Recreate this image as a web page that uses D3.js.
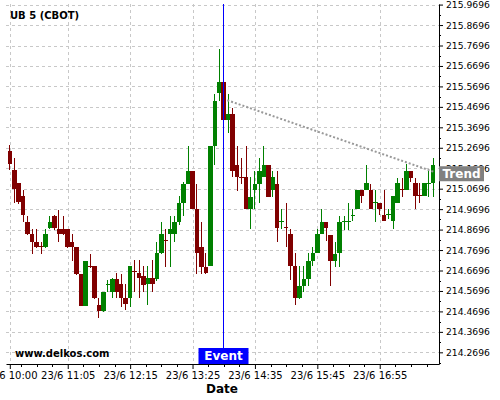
<!DOCTYPE html>
<html>
<head>
<meta charset="utf-8">
<script src="https://cdn.jsdelivr.net/npm/d3@7"></script>
<style>
body { margin: 0; background: #fff; }
svg { display: block; font-family: "DejaVu Sans", sans-serif; }
</style>
</head>
<body>
<script>
// Les données : barres de 5 minutes, le 23/6, à partir de 10:00
var title = "UB 5 (CBOT)";
var day = "23/6";
var firstBar = "10:00";
var barMinutes = 5;

var open = [
  215.252, 215.159, 215.095, 215.032, 214.909, 214.846, 214.811, 214.787, 214.784, 214.877, 214.937, 214.873,
  214.873, 214.873, 214.811, 214.784, 214.653, 214.498, 214.693, 214.690, 214.502, 214.471, 214.599, 214.566,
  214.628, 214.602, 214.537, 214.537, 214.666, 214.656, 214.645, 214.602, 214.631, 214.626, 214.753, 214.818,
  214.847, 214.847, 214.905, 215.000, 215.094, 215.157, 214.969, 214.783, 214.689, 214.691, 215.279, 215.536,
  215.592, 215.406, 215.434, 215.185, 215.128, 215.125, 214.969, 215.063, 215.094, 215.125, 215.185, 215.063,
  215.094, 214.908, 214.880, 214.847, 214.691, 214.535, 214.596, 214.626, 214.718, 214.753, 214.847, 214.909,
  214.845, 214.718, 214.755, 214.909, 214.910, 214.940, 214.968, 215.065, 215.065, 215.065, 215.001, 215.002,
  214.939, 214.943, 214.910, 215.002, 215.070, 215.065, 215.157, 215.095, 215.038, 215.033, 215.093, 215.095
];
var high = [
  215.281, 215.221, 215.095, 215.064, 214.937, 214.873, 214.873, 214.808, 214.873, 214.937, 214.940, 214.966,
  214.937, 214.873, 214.846, 214.784, 214.653, 214.718, 214.751, 214.690, 214.535, 214.564, 214.625, 214.631,
  214.656, 214.653, 214.602, 214.693, 214.721, 214.721, 214.693, 214.693, 214.721, 214.809, 214.905, 214.873,
  214.938, 214.938, 215.035, 215.100, 215.278, 215.157, 215.094, 214.905, 214.753, 215.279, 215.531, 215.753,
  215.592, 215.531, 215.466, 215.279, 215.218, 215.279, 215.125, 215.157, 215.218, 215.279, 215.185, 215.157,
  215.157, 214.969, 215.000, 214.873, 214.753, 214.691, 214.691, 214.753, 214.783, 214.873, 214.969, 214.909,
  214.845, 214.807, 214.934, 214.934, 214.999, 214.970, 215.065, 215.065, 215.186, 215.092, 215.065, 215.002,
  215.065, 214.971, 215.033, 215.124, 215.124, 215.189, 215.157, 215.124, 215.095, 215.095, 215.157, 215.218
];
var low = [
  215.159, 215.000, 214.996, 214.909, 214.841, 214.751, 214.780, 214.751, 214.780, 214.873, 214.869, 214.808,
  214.841, 214.780, 214.715, 214.650, 214.495, 214.495, 214.683, 214.531, 214.439, 214.466, 214.566, 214.534,
  214.534, 214.493, 214.477, 214.493, 214.566, 214.534, 214.566, 214.501, 214.566, 214.620, 214.750, 214.689,
  214.689, 214.808, 214.890, 214.938, 215.094, 214.969, 214.653, 214.653, 214.653, 214.691, 215.185, 215.499,
  215.404, 215.341, 215.125, 215.060, 215.092, 214.969, 214.873, 214.969, 215.000, 215.125, 215.031, 215.031,
  214.808, 214.873, 214.783, 214.621, 214.499, 214.532, 214.564, 214.596, 214.691, 214.753, 214.847, 214.815,
  214.596, 214.685, 214.685, 214.869, 214.869, 214.913, 214.968, 215.000, 215.065, 214.968, 214.908, 214.939,
  214.910, 214.920, 214.874, 215.002, 215.028, 215.065, 215.100, 214.968, 215.000, 215.033, 215.028, 215.028
];
var close = [
  215.190, 215.066, 215.004, 214.940, 214.846, 214.811, 214.784, 214.784, 214.846, 214.909, 214.877, 214.846,
  214.846, 214.784, 214.784, 214.653, 214.498, 214.718, 214.690, 214.534, 214.471, 214.564, 214.602, 214.628,
  214.566, 214.537, 214.505, 214.693, 214.662, 214.631, 214.600, 214.631, 214.602, 214.753, 214.847, 214.815,
  214.873, 214.905, 215.000, 215.094, 215.157, 214.969, 214.753, 214.689, 214.658, 215.279, 215.499, 215.592,
  215.406, 215.434, 215.157, 215.125, 215.125, 214.969, 215.031, 215.094, 215.157, 215.185, 215.031, 215.125,
  214.876, 214.911, 214.877, 214.691, 214.535, 214.596, 214.626, 214.718, 214.753, 214.847, 214.909, 214.876,
  214.718, 214.750, 214.908, 214.912, 214.913, 214.943, 215.065, 215.033, 215.095, 214.968, 215.004, 214.968,
  214.910, 214.946, 215.033, 215.095, 215.066, 215.157, 215.124, 215.033, 215.035, 215.095, 215.096, 215.186
];

// Graduations
var xTickLabels = ["23/6 10:00", "23/6 11:05", "23/6 12:15", "23/6 13:25", "23/6 14:35", "23/6 15:45", "23/6 16:55"];
var yTickLabels = ["214.2696", "214.3696", "214.4696", "214.5696", "214.6696", "214.7696", "214.8696", "214.9696",
                   "215.0696", "215.1696", "215.2696", "215.3696", "215.4696", "215.5696", "215.6696", "215.7696",
                   "215.8696", "215.9696"];

// Evénement et tendance
var eventTime = "14:00";
var trendTimes = ["14:04", "17:57"];
var trendValues = [215.502, 215.150];

// Les dimensions
var width = 500, height = 400;
var plot = {left: 6, right: 439, top: 4, bottom: 364};

var svg = d3.select("body").append("svg")
            .attr("width", width)
            .attr("height", height)
            .style("background", "#fff");

var parse = d3.timeParse("%d/%m %H:%M");
var fmt = d3.timeFormat("%-d/%-m %H:%M");
var t0 = parse(day + " " + firstBar);

var bars = open.map(function(o, i) {
  return {t: d3.timeMinute.offset(t0, i * barMinutes), o: o, h: high[i], l: low[i], c: close[i]};
});

// Echelles
var x = d3.scaleTime()
          .domain([d3.timeSecond.offset(t0, -256), d3.timeSecond.offset(t0, 28890)])
          .range([plot.left, plot.right]);
var y = d3.scaleLinear()
          .domain([214.2125, 215.9725])
          .range([plot.bottom, plot.top]);

var xMajor = xTickLabels.map(function(s) { return parse(s); });
var yMajor = yTickLabels.map(Number);

// quart de graduation sur l'axe X (17.5 min)
var xMinor = [];
for (var m = -4; m <= 26; m++) {
  var t = d3.timeSecond.offset(xMajor[1], m * 1050);
  if (t >= x.domain()[0] && t <= x.domain()[1] && m % 4 !== 0) xMinor.push(t);
}
var yMinor = yMajor.map(function(v) { return v + 0.05; }).filter(function(v) { return v < y.domain()[1]; });
yMinor.push(yMajor[0] - 0.05);

// Grille
var grid = svg.append("g")
              .attr("stroke", "#c8c8c8")
              .attr("stroke-dasharray", "3,3")
              .attr("shape-rendering", "crispEdges");
grid.selectAll(".h").data(yMajor).join("line")
    .attr("x1", plot.left).attr("x2", plot.right)
    .attr("y1", function(d) { return Math.round(y(d)) + 0.5; })
    .attr("y2", function(d) { return Math.round(y(d)) + 0.5; });
grid.selectAll(".v").data(xMajor).join("line")
    .attr("y1", plot.top).attr("y2", plot.bottom)
    .attr("x1", function(d) { return Math.round(x(d)) + 0.5; })
    .attr("x2", function(d) { return Math.round(x(d)) + 0.5; });

// Axe Y à droite
const groupeY = svg.append("g")
                   .attr("transform", "translate(" + plot.right + ",0)");
groupeY.call(d3.axisRight(y)
               .tickValues(yMajor)
               .tickFormat(function(d, i) { return yTickLabels[i]; })
               .tickSize(4)
               .tickSizeOuter(0))
       .attr("font-family", "DejaVu Sans")
       .attr("font-size", "9.2px");
groupeY.selectAll(".minor").data(yMinor).join("line")
       .attr("class", "minor")
       .attr("stroke", "#000")
       .attr("x1", 0).attr("x2", 2)
       .attr("y1", function(d) { return Math.round(y(d)) + 0.5; })
       .attr("y2", function(d) { return Math.round(y(d)) + 0.5; });

// Axe X
const groupeX = svg.append("g")
                   .attr("transform", "translate(0," + plot.bottom + ")");
groupeX.call(d3.axisBottom(x)
               .tickValues(xMajor)
               .tickFormat(fmt)
               .tickSize(5)
               .tickSizeOuter(0))
       .attr("font-family", "DejaVu Sans")
       .attr("font-size", "10px");
groupeX.selectAll(".minor").data(xMinor).join("line")
       .attr("class", "minor")
       .attr("stroke", "#000")
       .attr("y1", 0).attr("y2", 3)
       .attr("x1", function(d) { return Math.round(x(d)) + 0.5; })
       .attr("x2", function(d) { return Math.round(x(d)) + 0.5; });

// Chandeliers
var bw = 4.5;
var colour = function(d) { return d.c >= d.o ? "#008000" : "#800000"; };
var candles = svg.append("g").attr("shape-rendering", "crispEdges");
candles.selectAll("line").data(bars).join("line")
       .attr("stroke", colour)
       .attr("x1", function(d) { return Math.floor(x(d.t)) + 0.5; })
       .attr("x2", function(d) { return Math.floor(x(d.t)) + 0.5; })
       .attr("y1", function(d) { return y(d.h); })
       .attr("y2", function(d) { return y(d.l); });
candles.selectAll("rect").data(bars).join("rect")
       .attr("fill", colour)
       .attr("x", function(d) { return x(d.t) - bw / 2; })
       .attr("width", bw)
       .attr("y", function(d) { return y(Math.max(d.o, d.c)); })
       .attr("height", function(d) { return Math.max(1, Math.abs(y(d.o) - y(d.c))); });

// Ligne de tendance
var trend = trendTimes.map(function(s, i) { return [x(parse(day + " " + s)), y(trendValues[i])]; });
svg.append("path")
   .attr("d", d3.line()(trend))
   .attr("fill", "none")
   .attr("stroke", "#999")
   .attr("stroke-width", 2)
   .attr("stroke-dasharray", "2,2");
var yEnd = trend[1][1];
svg.append("rect")
   .attr("x", plot.right).attr("y", yEnd - 6)
   .attr("width", 45).attr("height", 15)
   .attr("fill", "#808080");
svg.append("text")
   .attr("x", plot.right + 3.5).attr("y", yEnd + 6)
   .attr("fill", "#fff")
   .attr("font-weight", "bold")
   .attr("font-size", "12px")
   .text("Trend");

// Evénement
var xe = Math.floor(x(parse(day + " " + eventTime))) + 0.5;
svg.append("line")
   .attr("x1", xe).attr("x2", xe)
   .attr("y1", plot.top).attr("y2", plot.bottom)
   .attr("stroke", "#0000ff");
svg.append("rect")
   .attr("x", xe - 25).attr("y", plot.bottom - 16)
   .attr("width", 50).attr("height", 16)
   .attr("fill", "#0000ff");
svg.append("text")
   .attr("x", xe).attr("y", plot.bottom - 4)
   .attr("text-anchor", "middle")
   .attr("fill", "#fff")
   .attr("font-weight", "bold")
   .attr("font-size", "12px")
   .text("Event");

// Textes
svg.append("text")
   .attr("x", 10).attr("y", 19)
   .attr("font-weight", "bold")
   .attr("font-size", "10px")
   .text(title);
svg.append("text")
   .attr("x", 15).attr("y", 357)
   .attr("font-weight", "bold")
   .attr("font-size", "10px")
   .text("www.delkos.com");
svg.append("text")
   .attr("x", 222).attr("y", 393)
   .attr("text-anchor", "middle")
   .attr("font-weight", "bold")
   .attr("font-size", "12px")
   .text("Date");
</script>
</body>
</html>
